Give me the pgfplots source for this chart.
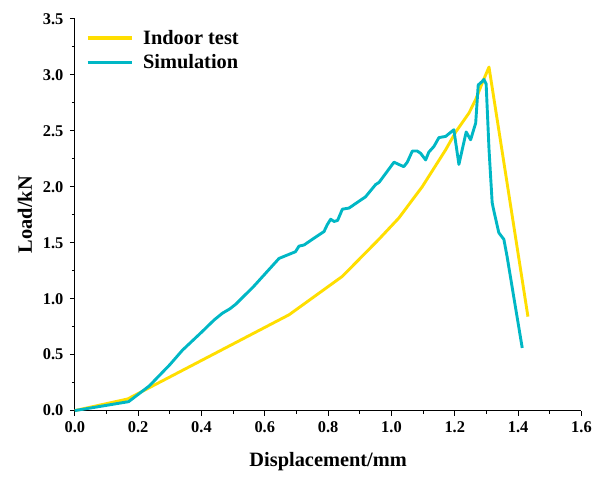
\documentclass[border=0pt]{standalone}
\usepackage{fontspec}
\setmainfont{Liberation Serif}
\usepackage{pgfplots}
\pgfplotsset{compat=1.18}
\definecolor{testyellow}{RGB}{255,222,0}
\definecolor{simcyan}{RGB}{0,183,197}

\begin{document}
\begin{tikzpicture}
\begin{axis}[
  name=main,
  scale only axis,
  width=508bp, height=392.7bp,
  xmin=0, xmax=1.6, ymin=0, ymax=3.5,
  axis lines=left,
  axis line style={-, line width=1.2pt},
  xtick={0,0.2,0.4,0.6,0.8,1.0,1.2,1.4,1.6},
  xticklabels={0.0,0.2,0.4,0.6,0.8,1.0,1.2,1.4,1.6},
  ytick={0,0.5,1.0,1.5,2.0,2.5,3.0,3.5},
  yticklabels={0.0,0.5,1.0,1.5,2.0,2.5,3.0,3.5},
  minor x tick num=1, minor y tick num=1,
  tick align=outside,
  major tick length=5bp, minor tick length=3bp,
  every tick/.style={black, line width=1.1pt},
  ticklabel style={font=\fontsize{16.5}{18}\selectfont\bfseries},
  yticklabel style={xshift=-3bp},
  xticklabel style={yshift=-3bp},
  xlabel={Displacement/mm}, ylabel={Load/kN},
  every axis x label/.style={at={(axis description cs:0.5,0)}, yshift=-51bp,
    anchor=center, font=\fontsize{20.5}{24}\selectfont\bfseries},
  every axis y label/.style={at={(axis description cs:0,0.5)}, xshift=-50bp,
    rotate=90, anchor=center, font=\fontsize{20.5}{24}\selectfont\bfseries},
  clip=false,
  legend cell align=left,
  legend style={draw=none, fill=none, at={(rel axis cs:0,1)}, anchor=north west,
    xshift=11bp, yshift=-9bp, inner sep=0pt,
    font=\fontsize{20.5}{24}\selectfont\bfseries, row sep=5bp,
    /tikz/every odd column/.append style={column sep=7bp}},
  legend image code/.code={\draw[#1, line width=3.3bp] (0bp,0bp) -- (45bp,0bp);},
]
% laboratory measurement
\addplot[color=testyellow, line width=2.9bp, line join=round] coordinates {
  (0,0) (0.167,0.104) (0.677,0.857) (0.845,1.20) (0.96,1.53)
  (1.023,1.72) (1.097,2.00) (1.171,2.33) (1.203,2.49) (1.245,2.66)
  (1.266,2.78) (1.287,2.93) (1.308,3.07) (1.431,0.84)
};
\addlegendentry{Indoor test}
% numerical model
\addplot[color=simcyan, line width=2.9bp, line join=round] coordinates {
  (0,0) (0.17,0.08) (0.235,0.22) (0.30,0.41) (0.34,0.54) (0.40,0.70)
  (0.44,0.81) (0.466,0.87) (0.49,0.91) (0.508,0.95) (0.565,1.11)
  (0.613,1.26) (0.645,1.36) (0.671,1.39) (0.697,1.42) (0.708,1.47)
  (0.724,1.48) (0.755,1.54) (0.787,1.60) (0.797,1.66) (0.808,1.71)
  (0.819,1.69) (0.830,1.70) (0.845,1.80) (0.866,1.81) (0.897,1.87)
  (0.918,1.91) (0.950,2.02) (0.961,2.04) (0.982,2.12) (1.008,2.22)
  (1.023,2.20) (1.039,2.18) (1.050,2.22) (1.066,2.32) (1.081,2.32)
  (1.092,2.30) (1.108,2.24) (1.118,2.31) (1.134,2.36) (1.150,2.44)
  (1.171,2.45) (1.197,2.51) (1.213,2.20) (1.236,2.49) (1.250,2.42)
  (1.266,2.57) (1.274,2.91) (1.286,2.94) (1.292,2.96) (1.299,2.92)
  (1.308,2.34) (1.318,1.86) (1.323,1.79) (1.339,1.59) (1.355,1.53)
  (1.365,1.38) (1.386,1.02) (1.413,0.56)
};
\addlegendentry{Simulation}
\end{axis}
% white margin round the axis
\path (main.south west) ++(-75bp,-66.3bp);
\path (main.north east) ++(12bp,19bp);
\end{tikzpicture}
\end{document}
